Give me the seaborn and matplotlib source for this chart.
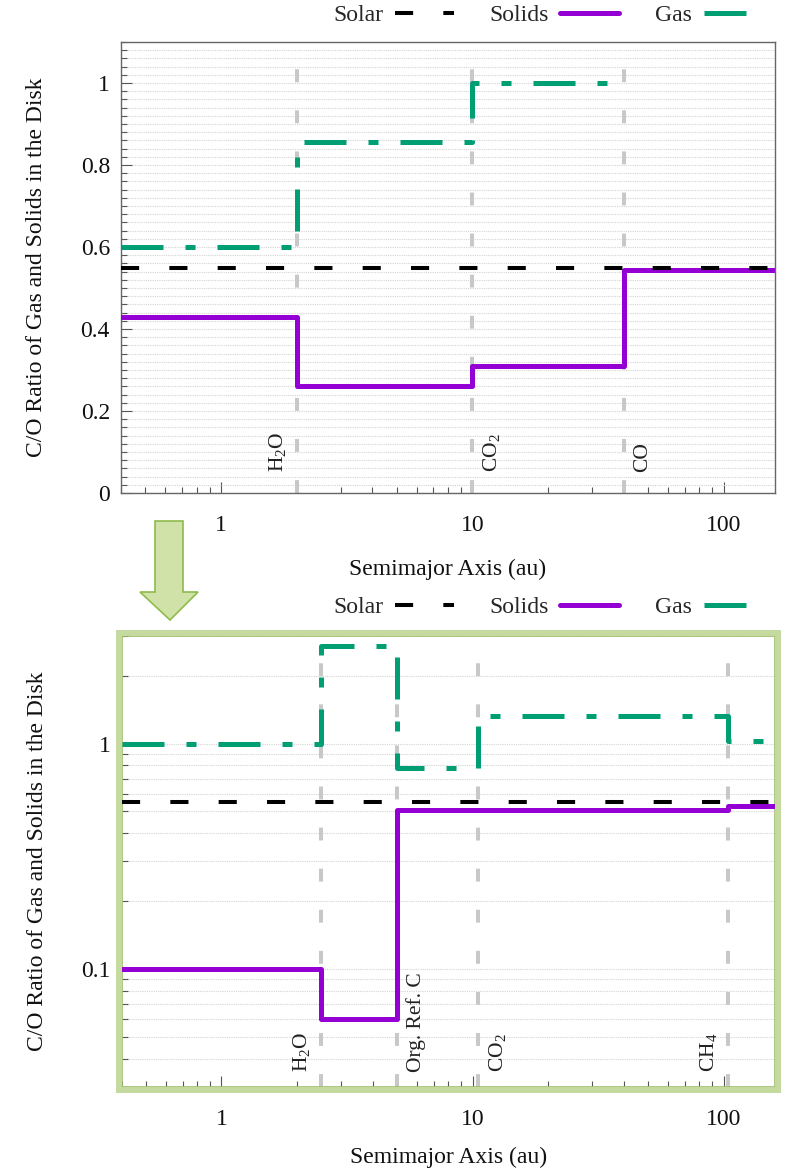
import numpy as np
import pandas as pd
import matplotlib
matplotlib.use("Agg")
import matplotlib.pyplot as plt
import seaborn as sns
from matplotlib.lines import Line2D
from matplotlib.patches import Polygon, Rectangle
from matplotlib.ticker import FixedLocator, FixedFormatter, MultipleLocator, LogLocator, NullFormatter

# ---------------- data ----------------
top_gas_x = [0.4, 2.0, 10.0, 40.0]
top_gas_y = [0.60, 0.857, 1.0, 1.0]
top_solid_x = [0.4, 2.0, 10.0, 40.0, 160.0]
top_solid_y = [0.43, 0.26, 0.31, 0.545, 0.545]
top_lines = [2.0, 10.0, 40.0]
top_line_labels = ["H$_2$O", "CO$_2$", "CO"]
top_line_sides = ["left", "right", "right"]
top_yticks = [0, 0.2, 0.4, 0.6, 0.8, 1.0]
top_yticklabels = ["0", "0.2", "0.4", "0.6", "0.8", "1"]

bot_gas_x = [0.4, 2.5, 5.0, 10.5, 104.0, 160.0]
bot_gas_y = [1.0, 2.7, 0.78, 1.33, 1.03, 1.03]
bot_solid_x = [0.4, 2.5, 5.0, 104.0, 160.0]
bot_solid_y = [0.10, 0.06, 0.51, 0.53, 0.53]
bot_lines = [2.5, 5.0, 10.5, 104.0]
bot_line_labels = ["H$_2$O", "Org. Ref. C", "CO$_2$", "CH$_4$"]
bot_line_sides = ["left", "right", "right", "left"]
bot_yticks = [0.1, 1.0]
bot_yticklabels = ["0.1", "1"]

xticks = [1, 10, 100]
xticklabels = ["1", "10", "100"]
solar_co = 0.55
series_names = ["Solar", "Solids", "Gas"]

# ---------------- style ----------------
sns.set_theme(style="ticks")
plt.rcParams["font.family"] = ["Liberation Serif", "DejaVu Serif"]
plt.rcParams["mathtext.fontset"] = "custom"
plt.rcParams["mathtext.rm"] = "Liberation Serif"
plt.rcParams["mathtext.it"] = "Liberation Serif:italic"

GAS_C = "#009E73"
SOL_C = "#9400D3"
VL_C = "#c8c8c8"
FS = 17
W, H = 785, 1172

gas_ls = (0, (8.4, 4.4, 2.0, 4.4))
solar_ls = (0, (4.5, 7.5))
vl_ls = (0, (3.2, 7.0))

fig = plt.figure(figsize=(W / 100, H / 100), dpi=100)
ax1 = fig.add_axes([121 / W, 1 - 493 / H, (775 - 121) / W, (493 - 42) / H])
ax2 = fig.add_axes([121.5 / W, 1 - 1087 / H, (775 - 121.5) / W, (1087 - 636) / H])


def draw(ax, gx, gy, sx, sy, lines, labels, sides, label_dy):
    ax.set_xscale("log")
    for xv in lines:
        ax.axvline(xv, color=VL_C, lw=2.9, linestyle=vl_ls, zorder=1)
    sns.lineplot(x=sx, y=sy, ax=ax, color=SOL_C, lw=3.6, drawstyle="steps-post",
                 estimator=None, sort=False, zorder=3)
    sns.lineplot(x=gx, y=gy, ax=ax, color=GAS_C, lw=3.6, drawstyle="steps-post",
                 linestyle=gas_ls, estimator=None, sort=False, zorder=3)
    ax.axhline(solar_co, color="black", lw=2.9, linestyle=solar_ls, zorder=4)
    for xv, lab, side in zip(lines, labels, sides):
        off = -9 if side == "left" else 9
        ax.annotate(lab, xy=(xv, 0), xycoords=("data", "axes fraction"),
                    xytext=(off, label_dy), textcoords="offset pixels", rotation=90,
                    ha="right" if side == "left" else "left", va="bottom",
                    fontsize=15.5, color="#222222")
    ax.set_xlim(0.4, 160)
    ax.xaxis.set_major_locator(FixedLocator(xticks))
    ax.xaxis.set_major_formatter(FixedFormatter(xticklabels))
    ax.xaxis.set_minor_locator(LogLocator(base=10, subs=np.arange(2, 10)))
    ax.xaxis.set_minor_formatter(NullFormatter())
    ax.tick_params(axis="both", which="both", direction="in", top=False, right=False,
                   colors="#555555", labelcolor="#111111", labelsize=FS, width=0.8)
    ax.tick_params(axis="both", which="major", length=8)
    ax.tick_params(axis="both", which="minor", length=4)
    ax.tick_params(axis="x", which="both", pad=16)
    ax.tick_params(axis="y", which="both", pad=8)
    ax.grid(False)
    ax.grid(True, axis="y", which="both", linestyle=(0, (1, 1)), color="#d4d4d4", lw=0.8, zorder=0)
    ax.set_xlabel("Semimajor Axis (au)", fontsize=FS, labelpad=16, color="#111111")
    ax.set_ylabel("C/O Ratio of Gas and Solids in the Disk", fontsize=FS, labelpad=24, color="#111111")


draw(ax1, top_gas_x, top_gas_y, top_solid_x, top_solid_y, top_lines, top_line_labels,
     top_line_sides, 21)
ax1.set_ylim(0, 1.1)
ax1.yaxis.set_major_locator(FixedLocator(top_yticks))
ax1.yaxis.set_major_formatter(FixedFormatter(top_yticklabels))
ax1.yaxis.set_minor_locator(MultipleLocator(0.02))
for s in ax1.spines.values():
    s.set_visible(True)
    s.set_color("#666666")
    s.set_linewidth(1.0)

ax2.set_yscale("log")
draw(ax2, bot_gas_x, bot_gas_y, bot_solid_x, bot_solid_y, bot_lines, bot_line_labels,
     bot_line_sides, 15)
ax2.set_ylim(0.03, 3.0)
ax2.yaxis.set_major_locator(FixedLocator(bot_yticks))
ax2.yaxis.set_major_formatter(FixedFormatter(bot_yticklabels))
ax2.yaxis.set_minor_locator(LogLocator(base=10, subs=np.arange(2, 10)))
ax2.yaxis.set_minor_formatter(NullFormatter())
ax2.xaxis.labelpad = 12
for s in ax2.spines.values():
    s.set_visible(True)
    s.set_color("#9fbd6a")
    s.set_linewidth(1.2)

# green frame around lower panel
fig.patches.append(Rectangle((118.5 / W, 1 - 1090 / H), (778 - 118.5) / W, (1090 - 633) / H,
                             transform=fig.transFigure, fill=False, edgecolor="#c5da9f",
                             lw=4.3, zorder=0))

# arrow
arrow_px = [(155, 521), (183, 521), (183, 592), (198, 592), (170, 620), (140, 592), (155, 592)]
fig.patches.append(Polygon([(x / W, 1 - y / H) for x, y in arrow_px], closed=True,
                           transform=fig.transFigure, facecolor="#d0e2a8",
                           edgecolor="#8fbb4c", lw=1.2))

# legends
handles = [Line2D([], [], color="black", lw=2.9, linestyle=solar_ls),
           Line2D([], [], color=SOL_C, lw=3.6),
           Line2D([], [], color=GAS_C, lw=3.6, linestyle=gas_ls)]
for yc in (15, 607):
    fig.legend(handles, series_names, ncol=3, markerfirst=False, frameon=False,
               loc="center right", bbox_to_anchor=(772 / W, 1 - yc / H),
               handlelength=2.5, columnspacing=1.5, handletextpad=0.5,
               fontsize=FS, borderaxespad=0)

fig.savefig("out.png", dpi=100)
